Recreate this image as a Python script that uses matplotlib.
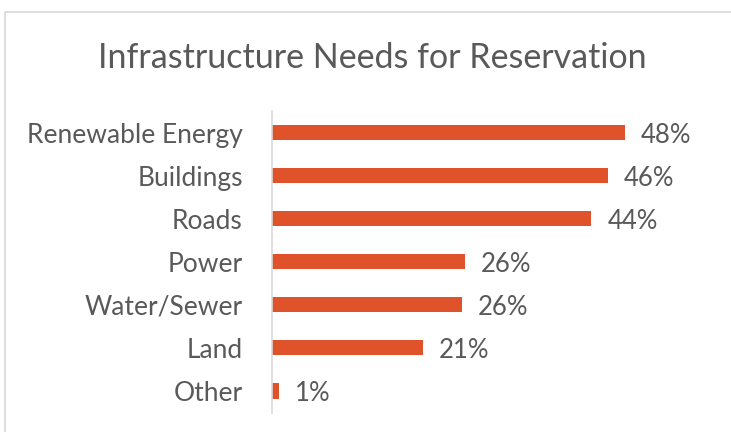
import matplotlib
matplotlib.use("Agg")
import matplotlib.pyplot as plt
from matplotlib.patches import Rectangle

categories = ["Renewable Energy", "Buildings", "Roads", "Power", "Water/Sewer", "Land", "Other"]
values = [48.3, 46.0, 43.7, 26.4, 26.0, 20.6, 0.9]
labels = ["48%", "46%", "44%", "26%", "26%", "21%", "1%"]
title = "Infrastructure Needs for Reservation"

bar_color = "#E0532A"
text_color = "#595959"
line_color = "#D9D9D9"
font = ["Lato", "DejaVu Sans"]

fig = plt.figure(figsize=(7.31, 4.32), dpi=100)
fig.patches.append(Rectangle((5/731, -0.1), 1.2, 1 - 12/432 + 0.1, transform=fig.transFigure,
                             fill=False, edgecolor=line_color, linewidth=1.2))
ax = fig.add_axes([272/731, 1 - 412.5/432, 402/731, (412.5 - 111)/432])

y = list(range(len(categories)))
ax.barh(y, values, height=0.35, color=bar_color)
ax.set_ylim(len(categories) - 0.5, -0.5)
ax.set_xlim(0, 55)
ax.set_yticks(y)
ax.set_yticklabels(categories, fontsize=19, color=text_color, family=font)
ax.tick_params(axis="y", length=0, pad=21)
ax.set_xticks([])
for s in ["top", "right", "bottom"]:
    ax.spines[s].set_visible(False)
ax.spines["left"].set_color(line_color)
ax.spines["left"].set_linewidth(1.2)

for yi, v, lab in zip(y, values, labels):
    ax.annotate(lab, (v, yi), xytext=(11.5, -2), textcoords="offset points",
                va="center", ha="left", fontsize=18.5, color=text_color, family=font)

fig.text(372/731, 1 - 58/432, title, ha="center", va="center", fontsize=24.5,
         color=text_color, family=font)

fig.savefig("out.png", dpi=100)
